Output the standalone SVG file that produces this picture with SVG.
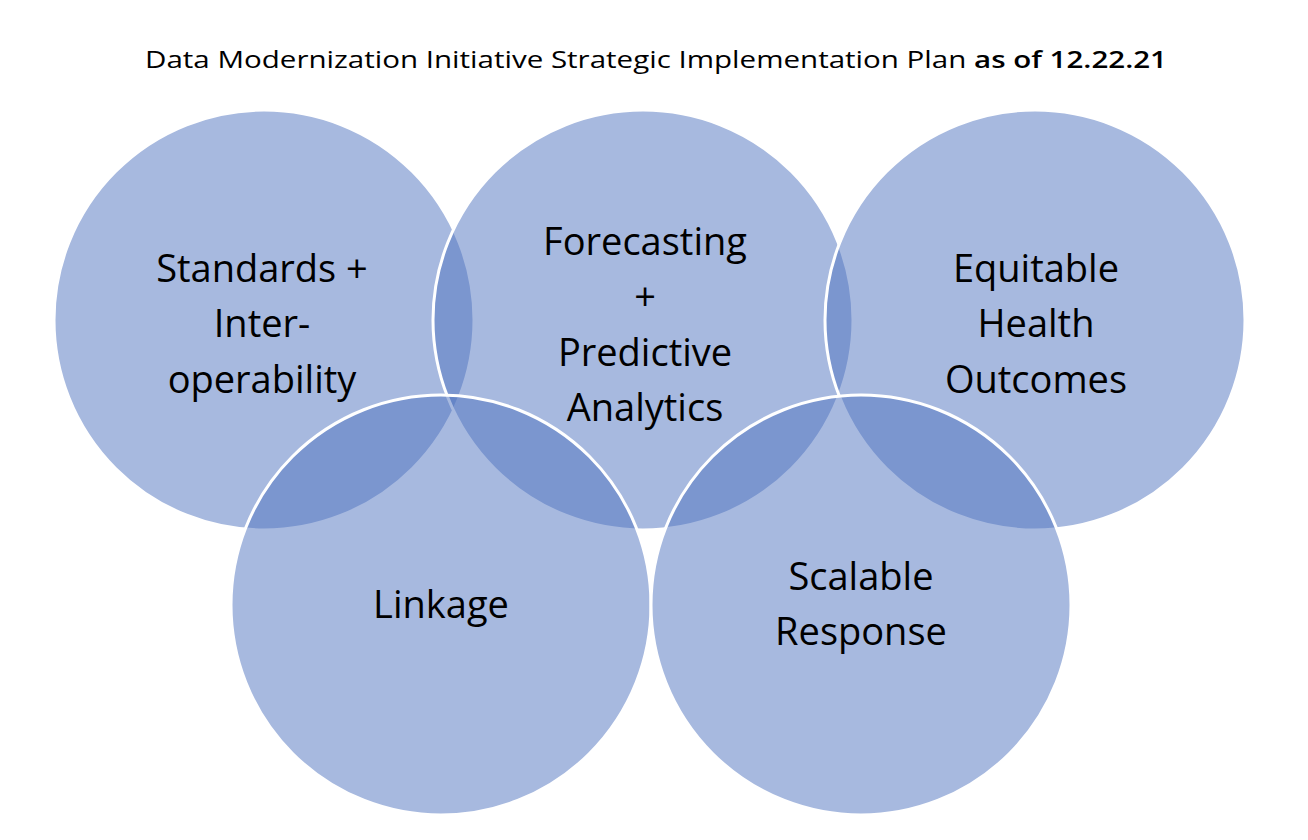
<svg xmlns="http://www.w3.org/2000/svg" width="1308" height="840" viewBox="0 0 1308 840">
<style>
.c{fill:#4F73BF;fill-opacity:0.5;stroke:#fff;stroke-width:3}
.t{font-family:"Open Sans","Liberation Sans",sans-serif;font-size:38px;fill:#000;text-anchor:middle}
</style>
<rect width="1308" height="840" fill="#fff"/>
<text x="656" y="68" font-family="Open Sans, Liberation Sans, sans-serif" font-size="23" text-anchor="middle" textLength="1022" lengthAdjust="spacingAndGlyphs">Data Modernization Initiative Strategic Implementation Plan <tspan font-weight="600">as of 12.22.21</tspan></text>
<g id="standards"><circle class="c" cx="264" cy="320" r="210"/><text class="t"><tspan x="262" y="282">Standards +</tspan><tspan x="262" y="337">Inter-</tspan><tspan x="262" y="393">operability</tspan></text></g>
<g id="forecasting"><circle class="c" cx="643" cy="320" r="210"/><text class="t"><tspan x="645" y="255">Forecasting</tspan><tspan x="645" y="310">+</tspan><tspan x="645" y="366">Predictive</tspan><tspan x="645" y="421">Analytics</tspan></text></g>
<g id="equitable"><circle class="c" cx="1035" cy="320" r="210"/><text class="t"><tspan x="1036" y="282">Equitable</tspan><tspan x="1036" y="337">Health</tspan><tspan x="1036" y="393">Outcomes</tspan></text></g>
<g id="linkage"><circle class="c" cx="441" cy="605" r="210"/><text class="t" x="441" y="618">Linkage</text></g>
<g id="scalable"><circle class="c" cx="861" cy="605" r="210"/><text class="t"><tspan x="861" y="590">Scalable</tspan><tspan x="861" y="645">Response</tspan></text></g>
<g id="connectors"/>
</svg>
